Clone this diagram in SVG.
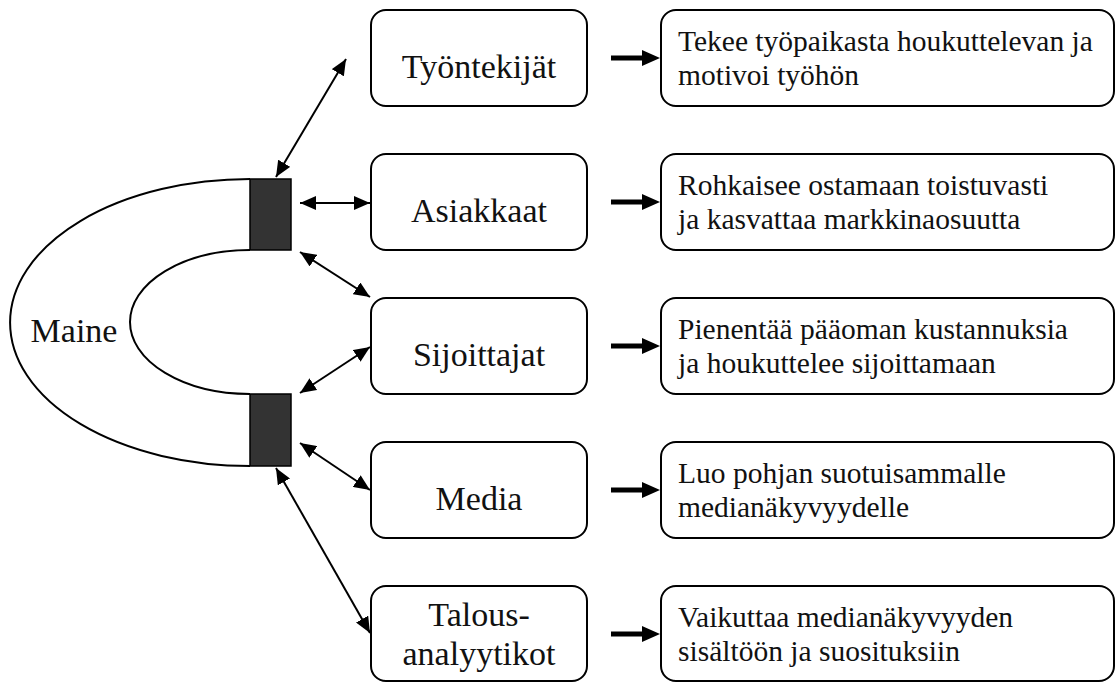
<svg xmlns="http://www.w3.org/2000/svg" width="1116" height="682" viewBox="0 0 1116 682">
  <style>
    .box { fill: #fff; stroke: #000; stroke-width: 2; }
    .lbl { font-family: "Liberation Serif", "Times New Roman", serif; font-size: 34px; fill: #111; text-anchor: middle; }
    .txt { font-family: "Liberation Serif", "Times New Roman", serif; font-size: 29.5px; fill: #111; }
    .link { fill: none; stroke: #000; stroke-width: 2; marker-start: url(#head); marker-end: url(#head); }
    .pole { fill: #333; stroke: #000; stroke-width: 1.5; }
    .arc { fill: none; stroke: #000; stroke-width: 2; }
  </style>
  <defs>
    <marker id="head" markerUnits="userSpaceOnUse" markerWidth="16" markerHeight="14" refX="16" refY="7" orient="auto-start-reverse">
      <path d="M0,0 L16,7 L0,14 Z" fill="#000"/>
    </marker>
    <path id="fat" d="M0,-2.5 H31 V-8 L49,0 L31,8 V2.5 H0 Z" fill="#000"/>
  </defs>

  <!-- horseshoe magnet -->
  <g id="maine">
    <path class="arc" d="M250,179 A240,143.5 0 0 0 250,466"/>
    <path class="arc" d="M250,250 A120,72 0 0 0 250,394"/>
    <rect class="pole" x="250" y="179" width="41" height="71"/>
    <rect class="pole" x="250" y="394" width="41" height="72"/>
    <text class="lbl" x="74" y="342">Maine</text>
  </g>

  <!-- stakeholder boxes -->
  <g id="tyontekijat">
    <rect class="box" x="371" y="10" width="216" height="96" rx="15"/>
    <text class="lbl" x="479" y="78">Työntekijät</text>
  </g>
  <g id="asiakkaat">
    <rect class="box" x="371" y="154" width="216" height="96" rx="15"/>
    <text class="lbl" x="479" y="222">Asiakkaat</text>
  </g>
  <g id="sijoittajat">
    <rect class="box" x="371" y="298" width="216" height="96" rx="15"/>
    <text class="lbl" x="479" y="366">Sijoittajat</text>
  </g>
  <g id="media">
    <rect class="box" x="371" y="442" width="216" height="96" rx="15"/>
    <text class="lbl" x="479" y="510">Media</text>
  </g>
  <g id="talousanalyytikot">
    <rect class="box" x="371" y="586" width="216" height="95" rx="15"/>
    <text class="lbl" x="479" y="626">Talous-</text>
    <text class="lbl" x="479" y="665">analyytikot</text>
  </g>

  <!-- effect boxes -->
  <g id="vaikutus-tyontekijat">
    <rect class="box" x="661" y="10" width="453" height="96" rx="15"/>
    <text class="txt" x="678" y="51">Tekee työpaikasta houkuttelevan ja</text>
    <text class="txt" x="678" y="85">motivoi työhön</text>
  </g>
  <g id="vaikutus-asiakkaat">
    <rect class="box" x="661" y="154" width="453" height="96" rx="15"/>
    <text class="txt" x="678" y="195">Rohkaisee ostamaan toistuvasti</text>
    <text class="txt" x="678" y="229">ja kasvattaa markkinaosuutta</text>
  </g>
  <g id="vaikutus-sijoittajat">
    <rect class="box" x="661" y="298" width="453" height="96" rx="15"/>
    <text class="txt" x="678" y="339">Pienentää pääoman kustannuksia</text>
    <text class="txt" x="678" y="373">ja houkuttelee sijoittamaan</text>
  </g>
  <g id="vaikutus-media">
    <rect class="box" x="661" y="442" width="453" height="96" rx="15"/>
    <text class="txt" x="678" y="483">Luo pohjan suotuisammalle</text>
    <text class="txt" x="678" y="517">medianäkyvyydelle</text>
  </g>
  <g id="vaikutus-analyytikot">
    <rect class="box" x="661" y="586" width="453" height="95" rx="15"/>
    <text class="txt" x="678" y="627">Vaikuttaa medianäkyvyyden</text>
    <text class="txt" x="678" y="661">sisältöön ja suosituksiin</text>
  </g>

  <!-- connectors -->
  <g id="connectors">
    <path class="link" d="M276,177 L346,59"/>
    <path class="link" d="M300,203 L370,203"/>
    <path class="link" d="M300,252 L370,297"/>
    <path class="link" d="M300,393 L370,347"/>
    <path class="link" d="M300,443 L370,490"/>
    <path class="link" d="M276,468 L370,633"/>
    <use href="#fat" x="611" y="58"/>
    <use href="#fat" x="611" y="202"/>
    <use href="#fat" x="611" y="346"/>
    <use href="#fat" x="611" y="490"/>
    <use href="#fat" x="611" y="634"/>
  </g>
</svg>
